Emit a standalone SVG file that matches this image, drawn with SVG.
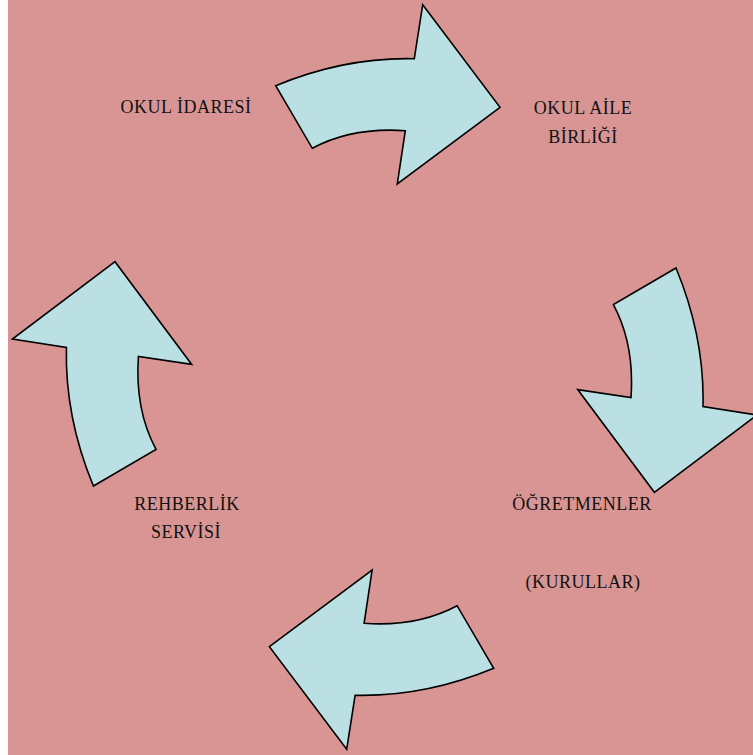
<svg xmlns="http://www.w3.org/2000/svg" xmlns:xlink="http://www.w3.org/1999/xlink" width="753" height="755" viewBox="0 0 753 755">
  <style>
    .bg { fill: #D99594; }
    .arrow { fill: #BBE0E3; stroke: #000000; stroke-width: 1.6; stroke-linejoin: miter; }
    .lbl { font-family: "Liberation Serif", "DejaVu Serif", serif; font-size: 18px; fill: #111111; text-anchor: middle; letter-spacing: 0.5px; }
  </style>
  <defs>
    <path id="curvedArrow" d="M 275.7 85.7 Q 345 57 414.3 58.7 L 422.7 4.7 L 500 107.3 L 397.3 184 L 405.3 130.7 Q 352 127 312.3 148.3 Z"/>
  </defs>
  <rect class="bg" x="8" y="0" width="745" height="755"/>
  <g id="connectors">
    <use xlink:href="#curvedArrow" class="arrow"/>
    <use xlink:href="#curvedArrow" class="arrow" transform="rotate(90 384.7 377)"/>
    <use xlink:href="#curvedArrow" class="arrow" transform="rotate(180 384.7 377)"/>
    <use xlink:href="#curvedArrow" class="arrow" transform="rotate(270 384.7 377)"/>
  </g>
  <g id="okul-idaresi">
    <text class="lbl" x="186" y="113">OKUL İDARESİ</text>
  </g>
  <g id="okul-aile-birligi">
    <text class="lbl" x="583" y="114">OKUL AİLE</text>
    <text class="lbl" x="583" y="143">BİRLİĞİ</text>
  </g>
  <g id="ogretmenler">
    <text class="lbl" x="582" y="510">ÖĞRETMENLER</text>
    <text class="lbl" x="583" y="588">(KURULLAR)</text>
  </g>
  <g id="rehberlik-servisi">
    <text class="lbl" x="187" y="510">REHBERLİK</text>
    <text class="lbl" x="186" y="538">SERVİSİ</text>
  </g>
</svg>
